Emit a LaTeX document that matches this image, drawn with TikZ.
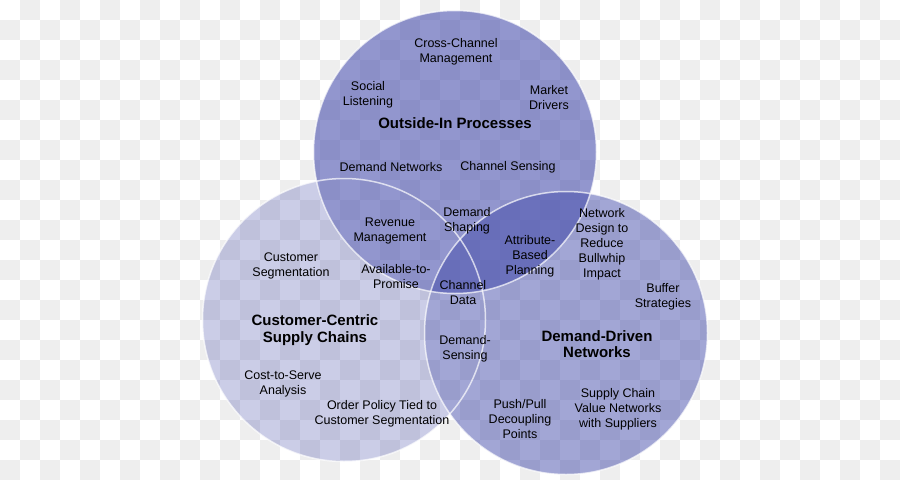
\documentclass[tikz,border=0pt]{standalone}
\usepackage{fontspec}
\setmainfont{Liberation Sans}
\definecolor{vennblue}{RGB}{70,78,172}
\definecolor{checker}{RGB}{238,238,238}
\begin{document}
\begin{tikzpicture}[x=1pt,y=-1pt,
ring/.style ={circle, draw=white, draw opacity=0.7, line width=1.5pt,
  inner sep=0pt, minimum size=283pt
},
item/.style ={text=black, align=center, yshift=-1pt,
  font=\fontsize{12.5}{15}\selectfont
},
title/.style ={text=black, align=center, yshift=-1pt,
  font=\fontsize{15}{16.5}\selectfont\bfseries
}]
\useasboundingbox (0,0) rectangle (900,480);
\fill[white] (0,0) rectangle (900,480);
% checkered background
\foreach \j in {0,2,...,22} {
  \foreach \i in {1,3,...,43} {\fill[checker] (20*\i,20*\j) rectangle ++(20,20);}
}
\foreach \j in {1,3,...,23} {
  \foreach \i in {0,2,...,44} {\fill[checker] (20*\i,20*\j) rectangle ++(20,20);}
}
% circle fills
\coordinate (ctop) at (455,152);
\coordinate (cleft) at (344,320);
\coordinate (cright) at (566,333);
\fill[vennblue, fill opacity=0.59] (ctop) circle[radius=141.5];
\fill[vennblue, fill opacity=0.5] (cright) circle[radius=141.5];
\begin{scope}[even odd rule]
  \clip (0,0) rectangle (900,480) (ctop) circle[radius=141.5];
  \clip (0,0) rectangle (900,480) (cright) circle[radius=141.5];
  \fill[vennblue, fill opacity=0.28] (cleft) circle[radius=141.5];
\end{scope}
% the three circles
\node (outside) at (ctop) [ring] {};
\node (customer) at (cleft) [ring] {};
\node (demand) at (cright) [ring] {};
% outside-in processes
\node (crossch) at (456,51) [item] {Cross-Channel\\Management};
\node (social) at (368,94) [item] {Social\\Listening};
\node (market) at (549,97) [item] {Market\\Drivers};
\node (outtitle) at (455,122) [title] {Outside-In Processes};
\node (demnet) at (391,166) [item] {Demand Networks};
\node (chsens) at (508,166) [item] {Channel Sensing};
% overlaps
\node (revenue) at (390,230) [item] {Revenue\\Management};
\node (shaping) at (467,220) [item] {Demand\\Shaping};
\node (atp) at (396,276) [item] {Available-to-\\Promise};
\node (attrib) at (530,255) [item] {Attribute-\\Based\\Planning};
\node (chdata) at (463,292) [item] {Channel\\Data};
\node (dsensing) at (465,348) [item] {Demand-\\Sensing};
% customer-centric supply chains
\node (segment) at (291,265) [item] {Customer\\Segmentation};
\node (custitle) at (315,329) [title] {Customer-Centric\\Supply Chains};
\node (costserve) at (283,383) [item] {Cost-to-Serve\\Analysis};
\node (policy) at (382,413) [item] {Order Policy Tied to\\Customer Segmentation};
% demand-driven networks
\node (netdesign) at (602,243) [item] {Network\\Design to\\Reduce\\Bullwhip\\Impact};
\node (buffer) at (663,296) [item] {Buffer\\Strategies};
\node (demtitle) at (597,343) [title] {Demand-Driven\\Networks};
\node (pushpull) at (520,418) [item] {Push/Pull\\Decoupling\\Points};
\node (valuenet) at (618,408) [item] {Supply Chain\\Value Networks\\with Suppliers};
\end{tikzpicture}
\end{document}
